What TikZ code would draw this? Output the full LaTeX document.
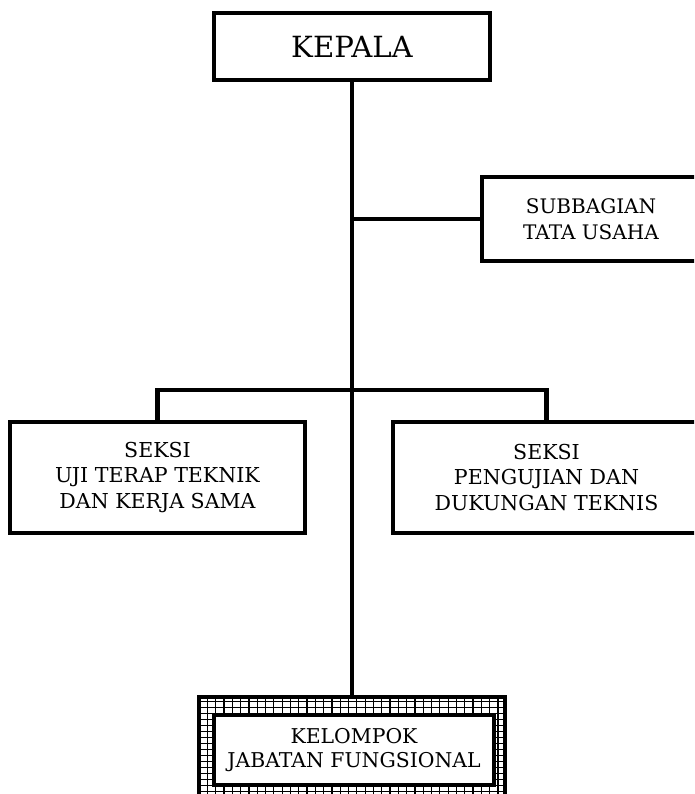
\documentclass[tikz,border=0pt]{standalone}
\usepackage{fontspec}
\setmainfont{DejaVu Serif}
\usetikzlibrary{positioning,calc}
\tikzset{
  unit/.style={draw=black,line width=2.3pt,fill=white,align=center,
    inner sep=0pt,font=\fontsize{11.7}{14.5}\selectfont},
  head/.style={unit,font=\fontsize{16.6}{20}\selectfont},
  link/.style={draw=black,line width=2.3pt},
  hatch/.style={draw=black,line width=0.7pt},
}

\begin{document}
\begin{tikzpicture}[x=0.02cm,y=-0.02cm]
  \clip (0,0) rectangle (694,794);
  \fill[white] (0,0) rectangle (694,794);
  % boxes
  \node[head,minimum width=5.52cm,minimum height=1.34cm] (kepala) at (352,46.5) {KEPALA};
  \node[unit,minimum width=4.36cm,minimum height=1.68cm,font=\fontsize{11.4}{14.5}\selectfont] (tu) at (591,219) {SUBBAGIAN\\TATA USAHA};
  \node[unit,minimum width=5.9cm,minimum height=2.22cm] (uji) at (157.5,477.5) {SEKSI\\UJI TERAP TEKNIK\\DAN KERJA SAMA};
  \node[unit,minimum width=6.14cm,minimum height=2.22cm] (uji2) at (546.5,477.5) {SEKSI\\PENGUJIAN DAN\\DUKUNGAN TEKNIS};
  % kelompok jabatan fungsional, with grid border
  \node[minimum width=6.12cm,minimum height=2.12cm,inner sep=0pt] (jf) at (352,750) {};
  \begin{scope}
    \clip (jf.south west) rectangle (jf.north east);
    \draw[hatch,xstep=0.166cm,ystep=0.12cm] ($(jf.south west)+(-1,1)$) grid ($(jf.north east)+(1,-1)$);
  \end{scope}
  \draw[link] (jf.south west) rectangle (jf.north east);
  \node[unit,minimum width=5.6cm,minimum height=1.4cm,font=\fontsize{11.6}{13.2}\selectfont] (jfin) at (354,750) {KELOMPOK\\JABATAN FUNGSIONAL};
  % lines
  \coordinate (bar) at (352,390);
  \draw[link] (kepala.south) -- (jf.north);
  \draw[link] (kepala.south |- tu.west) -- (tu.west);
  \draw[link] (uji.north) |- (bar) -| (uji2.north);
\end{tikzpicture}
\end{document}
